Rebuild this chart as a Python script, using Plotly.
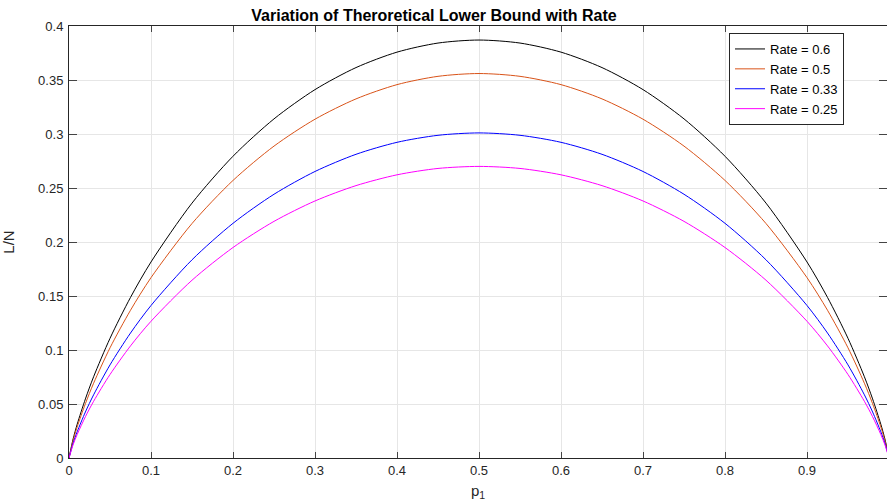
import plotly.graph_objects as go

# p_1 values and the L/N curves
p1 = [0.0, 0.005, 0.01, 0.02, 0.03, 0.05, 0.075, 0.1, 0.15, 0.2, 0.25, 0.3, 0.35, 0.4, 0.45, 0.5,
      0.55, 0.6, 0.65, 0.7, 0.75, 0.8, 0.85, 0.9, 0.925, 0.95, 0.97, 0.98, 0.99, 0.995, 1.0]

rate_06 = [0.0, 0.0176, 0.0313, 0.0547, 0.0752, 0.1108, 0.1487, 0.1815, 0.2360, 0.2794, 0.3140,
           0.3411, 0.3615, 0.3758, 0.3842, 0.3870, 0.3842, 0.3758, 0.3615, 0.3411, 0.3140,
           0.2794, 0.2360, 0.1815, 0.1487, 0.1108, 0.0752, 0.0547, 0.0313, 0.0176, 0.0]
rate_05 = [0.0, 0.0162, 0.0288, 0.0503, 0.0692, 0.1020, 0.1368, 0.1670, 0.2171, 0.2570, 0.2888,
           0.3137, 0.3325, 0.3457, 0.3534, 0.3560, 0.3534, 0.3457, 0.3325, 0.3137, 0.2888,
           0.2570, 0.2171, 0.1670, 0.1368, 0.1020, 0.0692, 0.0503, 0.0288, 0.0162, 0.0]
rate_033 = [0.0, 0.0137, 0.0243, 0.0426, 0.0585, 0.0862, 0.1157, 0.1412, 0.1835, 0.2173, 0.2442,
            0.2653, 0.2812, 0.2923, 0.2988, 0.3010, 0.2988, 0.2923, 0.2812, 0.2653, 0.2442,
            0.2173, 0.1835, 0.1412, 0.1157, 0.0862, 0.0585, 0.0426, 0.0243, 0.0137, 0.0]
rate_025 = [0.0, 0.0123, 0.0218, 0.0382, 0.0525, 0.0773, 0.1038, 0.1266, 0.1646, 0.1949, 0.2191,
            0.2380, 0.2522, 0.2622, 0.2681, 0.2700, 0.2681, 0.2622, 0.2522, 0.2380, 0.2191,
            0.1949, 0.1646, 0.1266, 0.1038, 0.0773, 0.0525, 0.0382, 0.0218, 0.0123, 0.0]

names = ['Rate = 0.6', 'Rate = 0.5', 'Rate = 0.33', 'Rate = 0.25']
series = [rate_06, rate_05, rate_033, rate_025]
colors = ['#000000', '#D95319', '#0000FF', '#FF00FF']

x_ticks = [0, 0.1, 0.2, 0.3, 0.4, 0.5, 0.6, 0.7, 0.8, 0.9, 1]
y_ticks = [0, 0.05, 0.1, 0.15, 0.2, 0.25, 0.3, 0.35, 0.4]
y_labels = ['0', '0.05', '0.1', '0.15', '0.2', '0.25', '0.3', '0.35', '0.4']

axis_col = '#262626'
grid_col = '#e6e6e6'
font = 'Liberation Sans, Arial, sans-serif'

fig = go.Figure()
for name, vals, col in zip(names, series, colors):
    fig.add_trace(go.Scatter(x=p1, y=vals, name=name, mode='lines',
                             line=dict(color=col, width=1, shape='spline', smoothing=0.8)))

# plot area: 82px per 0.1 on x, right edge cut by the window like the reference
W, H = 887, 501
fig.update_layout(
    width=W, height=H,
    margin=dict(l=69, r=0, t=26, b=43),
    paper_bgcolor='white', plot_bgcolor='white',
    font=dict(family=font, size=13, color=axis_col),
    title=dict(text='<b>Variation of Theroretical Lower Bound with Rate</b>',
               x=434 / W, xref='container', xanchor='center',
               y=1 - 15 / H, yref='container', yanchor='middle',
               font=dict(size=16, color='#000000')),
    legend=dict(x=(729 - 69) / 818, y=(458 - 33) / 432, xanchor='left', yanchor='top',
                bgcolor='white', bordercolor=axis_col, borderwidth=1,
                font=dict(size=13, color='#000000')),
    showlegend=True,
)
fig.update_xaxes(range=[0, 818 / 820], tickvals=x_ticks, ticks='inside', ticklen=6,
                 showline=True, linecolor=axis_col, linewidth=1, mirror='ticks',
                 showgrid=True, gridcolor=grid_col, zeroline=False,
                 tickfont=dict(size=13),
                 title=dict(text='p<sub>1</sub>', font=dict(size=15), standoff=10))
fig.update_yaxes(range=[0, 0.4], tickvals=y_ticks, ticktext=y_labels, ticks='inside', ticklen=8,
                 showline=True, linecolor=axis_col, linewidth=1, mirror='ticks',
                 showgrid=True, gridcolor=grid_col, zeroline=False,
                 tickfont=dict(size=13), ticklabelstandoff=2,
                 title=dict(text='L/N', font=dict(size=15), standoff=20))

# drop the default 8px body margin so the figure fills the window exactly
fig.write_html("out.html", config={'displayModeBar': False},
               post_script="document.body.style.margin = '0';")
